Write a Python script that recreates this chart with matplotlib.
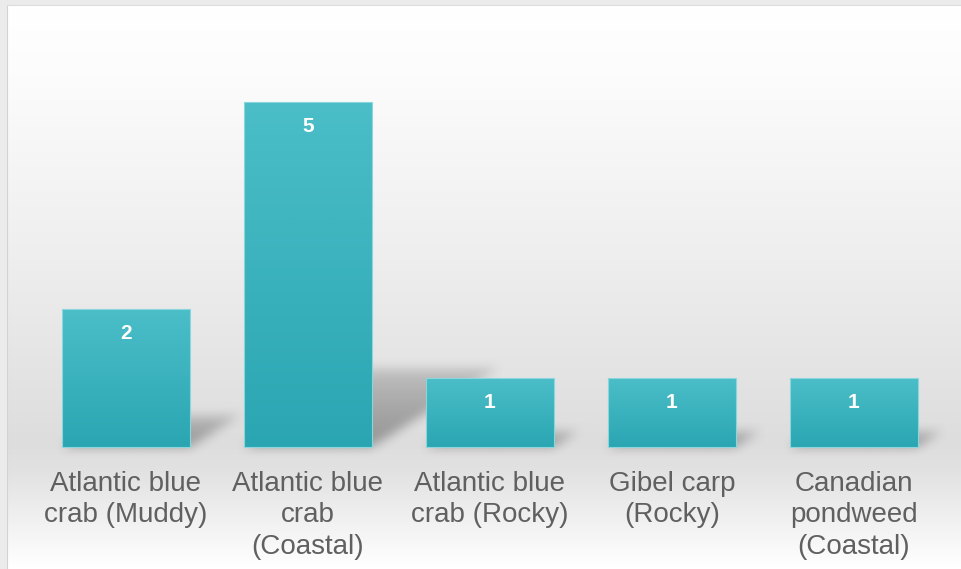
import numpy as np
import matplotlib
matplotlib.use("Agg")
import matplotlib.pyplot as plt
from matplotlib.colors import LinearSegmentedColormap

categories = ["Atlantic blue\ncrab (Muddy)", "Atlantic blue\ncrab\n(Coastal)",
              "Atlantic blue\ncrab (Rocky)", "Gibel carp\n(Rocky)",
              "Canadian\npondweed\n(Coastal)"]
values = [2, 5, 1, 1, 1]

W, H = 962, 569
px_unit_x = 182.0   # pixels per category step
px_unit_y = 69.0    # pixels per count
bar_w = 0.703

fig = plt.figure(figsize=(W / 100, H / 100), dpi=100)
fig.patch.set_facecolor("#ebebeb")
left_px, top_px = 7, 5
ax = fig.add_axes([left_px / W, 0, (W - left_px) / W, (H - top_px) / H])
x0_px, y0_px = 126 - left_px, 447 - top_px   # position of (0, 0) inside the axes
xlim = (-x0_px / px_unit_x, (W - left_px - x0_px) / px_unit_x)
ylim = (-(H - top_px - y0_px) / px_unit_y, y0_px / px_unit_y)
ax.set_xlim(*xlim)
ax.set_ylim(*ylim)
ax.axis("off")

# background gradient (white at top, gray at the floor, white again below)
stops = [(0.0, "#ffffff"), (0.12, "#fcfcfc"), (0.45, "#eeeeee"),
         (0.78, "#dddddd"), (0.83, "#e2e2e2"), (1.0, "#ffffff")]
bg_cmap = LinearSegmentedColormap.from_list("bg", stops)
grad = np.linspace(0, 1, 400).reshape(-1, 1)
ax.imshow(grad, cmap=bg_cmap, aspect="auto", extent=[0, 1, 0, 1],
          transform=ax.transAxes, zorder=0, interpolation="bilinear")
ax.plot([0, 0], [0, 1], transform=ax.transAxes, color="#d2d2d2", lw=1.5, zorder=1)
ax.plot([0, 1], [1, 1], transform=ax.transAxes, color="#dcdcdc", lw=1.5, zorder=1)

# cast shadows, computed on a pixel grid and blurred
nx, ny = W - left_px, H - top_px
gx = np.linspace(xlim[0], xlim[1], nx)
gy = np.linspace(ylim[1], ylim[0], ny)
X, Y = np.meshgrid(gx, gy)
shade = np.zeros_like(X)
shear = 0.37 * px_unit_y / px_unit_x   # x shift per unit of height
rise = 0.23
for i, v in enumerate(values):
    top = rise * v
    xs = X - shear / rise * Y
    inside = (Y >= 0) & (Y <= top) & (xs >= i - bar_w / 2) & (xs <= i + bar_w / 2)
    fade = np.clip(1 - Y / top, 0, 1) ** 0.6
    shade = np.maximum(shade, inside * (0.35 + 0.65 * fade))

def box_blur(a, r):
    k = np.ones(2 * r + 1) / (2 * r + 1)
    a = np.apply_along_axis(lambda m: np.convolve(m, k, mode="same"), 0, a)
    a = np.apply_along_axis(lambda m: np.convolve(m, k, mode="same"), 1, a)
    return a

shade = box_blur(box_blur(shade, 6), 5)
rgba = np.zeros((ny, nx, 4))
rgba[..., :3] = 0.25
rgba[..., 3] = shade * 0.45
ax.imshow(rgba, extent=[xlim[0], xlim[1], ylim[0], ylim[1]], aspect="auto",
          zorder=2, interpolation="bilinear")

# bars with a vertical teal gradient
bar_cmap = LinearSegmentedColormap.from_list("bar", ["#2aa6b2", "#4bbec8"])
bars = ax.bar(range(len(values)), values, width=bar_w, color="none",
              edgecolor="#8ad6dc", linewidth=0.8, zorder=4)
for b in bars:
    im = ax.imshow(grad, cmap=bar_cmap, aspect="auto", origin="lower",
                   extent=[b.get_x(), b.get_x() + b.get_width(), 0, b.get_height()],
                   zorder=3, interpolation="bilinear")
    im.set_clip_path(b)

# value labels
for i, v in enumerate(values):
    ax.text(i, v - 24 / px_unit_y, str(v), ha="center", va="center", color="white",
            fontsize=15, fontweight="bold", family="Liberation Sans", zorder=5)

# category labels
for i, c in enumerate(categories):
    ax.text(i, -24 / px_unit_y, c, ha="center", va="top", color="#606060",
            fontsize=20, family="Liberation Sans", linespacing=1.27, zorder=5)

fig.savefig("out.png", dpi=100, facecolor=fig.get_facecolor())
